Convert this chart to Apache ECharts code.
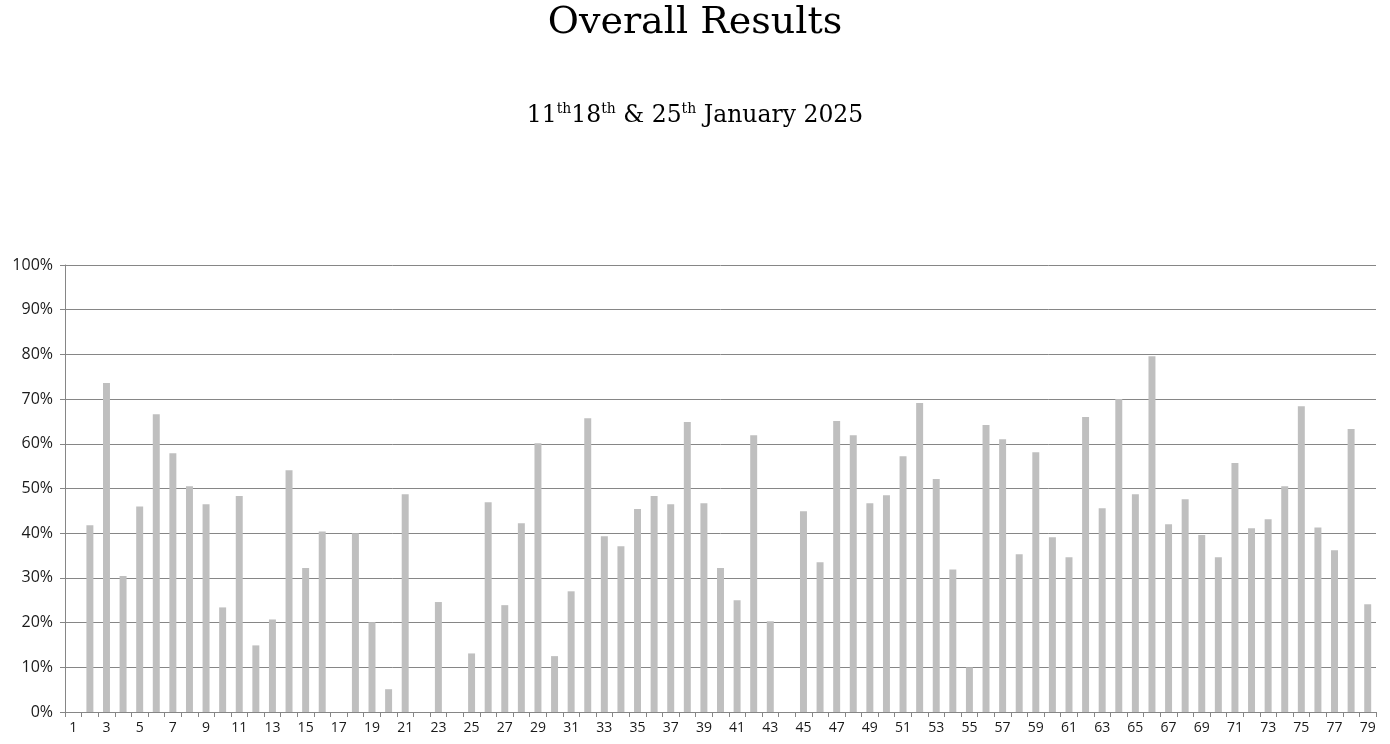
<!DOCTYPE html>
<html>
<head>
<meta charset="utf-8">
<script src="https://cdn.jsdelivr.net/npm/echarts@6/dist/echarts.min.js"></script>
<style>
html,body{margin:0;padding:0;background:#fff;}
#chart{width:1390px;height:744px;}
</style>
</head>
<body>
<div id="chart"></div>
<script>
const categories = [];
for (let i = 1; i <= 79; i++) categories.push(String(i));

const values = [
  0, 41.8, 73.6, 30.4, 46.0, 66.6, 57.9, 50.5, 46.5, 23.4,
  48.3, 14.9, 20.7, 54.1, 32.2, 40.4, 0, 40.0, 20.1, 5.1,
  48.7, 0, 24.6, 0, 13.1, 46.9, 23.9, 42.2, 60.1, 12.5,
  27.0, 65.7, 39.3, 37.1, 45.4, 48.3, 46.5, 64.9, 46.7, 32.2,
  25.0, 61.9, 20.3, 0, 44.9, 33.5, 65.1, 61.9, 46.7, 48.5,
  57.2, 69.1, 52.1, 31.9, 10.0, 64.2, 61.0, 35.3, 58.1, 39.1,
  34.6, 66.0, 45.6, 70.0, 48.7, 79.6, 42.0, 47.6, 39.6, 34.6,
  55.7, 41.1, 43.1, 50.5, 68.4, 41.3, 36.2, 63.3, 24.1
];

const titleText = 'Overall Results';
const yTicks = { min: 0, max: 100, interval: 10 };

const chart = echarts.init(document.getElementById('chart'));
chart.setOption({
  animation: false,
  backgroundColor: '#ffffff',
  title: [
    {
      text: titleText,
      left: 'center',
      top: -1,
      textStyle: { fontFamily: 'DejaVu Serif', fontSize: 38, fontWeight: 'normal', color: '#000' }
    },
    {
      text: '{n|11}{s|th}{n|18}{s|th}{n| & 25}{s|th}{n| January 2025}',
      left: 'center',
      top: 93,
      textStyle: {
        fontWeight: 'normal',
        rich: {
          n: { fontFamily: 'DejaVu Serif', fontSize: 23.5, fontWeight: 'normal', color: '#000', lineHeight: 30, verticalAlign: 'bottom' },
          s: { fontFamily: 'DejaVu Serif', fontSize: 14, fontWeight: 'normal', color: '#000', lineHeight: 30, verticalAlign: 'top', padding: [4, 0, 0, 0] }
        }
      }
    }
  ],
  grid: { left: 65, right: 14, top: 265, bottom: 32, containLabel: false },
  xAxis: {
    type: 'category',
    data: categories,
    boundaryGap: true,
    axisLine: { lineStyle: { color: '#868686', width: 1 } },
    axisTick: { show: true, interval: 0, length: 5, lineStyle: { color: '#868686' } },
    axisLabel: { interval: 1, color: '#1a1a1a', fontFamily: 'Open Sans', fontSize: 14, margin: 9 },
    splitLine: { show: false }
  },
  yAxis: {
    type: 'value',
    min: yTicks.min,
    max: yTicks.max,
    interval: yTicks.interval,
    axisLine: { show: true, lineStyle: { color: '#868686', width: 1 } },
    axisTick: { show: true, length: 5, lineStyle: { color: '#868686' } },
    axisLabel: { formatter: '{value}%', color: '#1a1a1a', fontFamily: 'Open Sans', fontSize: 16, margin: 12 },
    splitLine: { show: true, lineStyle: { color: '#868686', width: 1 } }
  },
  series: [{
    type: 'bar',
    data: values,
    barWidth: '42%',
    itemStyle: { color: '#bfbfbf' }
  }]
});
</script>
</body>
</html>
